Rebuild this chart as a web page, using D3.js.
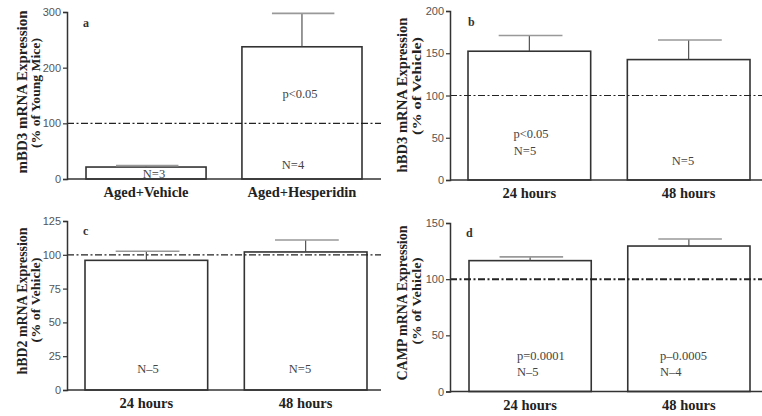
<!DOCTYPE html>
<html lang="en">
<head>
    <meta charset="UTF-8">
    <title>Hesperidin defensin expression</title>
    <script src="https://d3js.org/d3.v7.min.js"></script>
    <style>
        body { margin: 0; background: #fff; }
        svg { display: block; font-family: "Liberation Serif", "DejaVu Serif", serif; }
        .bar { fill: #fff; stroke: #333; stroke-width: 1.6; }
        .stem { stroke: #444; stroke-width: 1.1; }
        .cap { stroke: #999; stroke-width: 1.6; }
        .axis-line { stroke: #333; stroke-width: 1.5; fill: none; }
        .tick-label { font-size: 11px; fill: #555; }
        .cat-label { font-size: 14.5px; font-weight: bold; fill: #222; }
        .note { font-size: 12.5px; fill: #444; }
        .ytitle { font-weight: bold; fill: #222; }
        .letter { font-size: 12px; font-weight: bold; fill: #333; }
    </style>
</head>
<body>
<script>
    const width = 762;
    const height = 416;

    // data
    const panelLetters = ["a", "b", "c", "d"];
    const yTitles = ["mBD3 mRNA Expression", "hBD3 mRNA Expression", "hBD2 mRNA Expression", "CAMP mRNA Expression"];
    const yUnits = ["(% of Young Mice)", "(% of Vehicle)", "(% of Vehicle)", "(% of Vehicle)"];
    const categories = [
        ["Aged+Vehicle", "Aged+Hesperidin"],
        ["24 hours", "48 hours"],
        ["24 hours", "48 hours"],
        ["24 hours", "48 hours"]
    ];
    const means = [[21.5, 237.5], [152.4, 142.5], [95.9, 102.1], [116.5, 129.5]];
    const errorTops = [[24, 297.5], [171, 165.7], [102.6, 111], [119.8, 135.8]];
    const yMax = [300, 200, 125, 150];
    const tickStep = [100, 50, 25, 50];
    const refValue = [100, 100, 100, 100];
    const pNotes = [[null, "p<0.05"], ["p<0.05", null], [null, null], ["p=0.0001", "p\u20130.0005"]];
    const nNotes = [["N=3", "N=4"], ["N=5", "N=5"], ["N\u20135", "N=5"], ["N\u20135", "N\u20134"]];

    // layout of the four panels (pixels)
    const layout = [
        {axisX: 67,  top: 12,  bottom: 179,   bars: [86, 362],  xEnd: 381, refW: 1.2,
         titleX: [27, 40],   titleY: [92, 93],   titleLen: [163, 110], letter: [83, 27],
         pAt: [null, [300, 98]], pAnchor: "middle", nAt: [[154, 178], [293, 169]], nAnchor: "middle"},
        {axisX: 450, top: 11,  bottom: 180,   bars: [468, 750], xEnd: 762, refW: 1.2,
         titleX: [407, 421], titleY: [95, 86],   titleLen: [155, 98],  letter: [468, 26],
         pAt: [[531, 138], null], pAnchor: "middle", nAt: [[525, 155], [683, 165]], nAnchor: "middle"},
        {axisX: 67,  top: 221, bottom: 390,   bars: [85, 367],  xEnd: 381, refW: 1.2,
         titleX: [27, 40],   titleY: [301, 300], titleLen: [147, 85],  letter: [83, 235],
         pAt: [null, null], pAnchor: "middle", nAt: [[148, 373], [300, 373]], nAnchor: "middle"},
        {axisX: 450, top: 223, bottom: 391.5, bars: [469, 750], xEnd: 762, refW: 2,
         titleX: [407, 421], titleY: [303, 301], titleLen: [155, 87],  letter: [466, 237],
         pAt: [[517, 360], [660, 360]], pAnchor: "start", nAt: [[517, 376], [660, 376]], nAnchor: "start"}
    ];

    const svg = d3.select("body").append("svg")
        .attr("width", width).attr("height", height);

    panelLetters.forEach(function(letter, i) {
        const L = layout[i];
        const g = svg.append("g");

        const y = d3.scaleLinear().domain([0, yMax[i]]).range([L.bottom, L.top]);
        const x = d3.scaleBand().domain(categories[i]).range(L.bars)
            .paddingInner(0.23).paddingOuter(0);

        // bars
        g.selectAll("rect.bar")
            .data(categories[i])
            .enter().append("rect")
            .attr("class", "bar")
            .attr("x", d => x(d))
            .attr("width", x.bandwidth())
            .attr("y", (d, j) => y(means[i][j]))
            .attr("height", (d, j) => y(0) - y(means[i][j]));

        // error bars
        g.selectAll("line.stem")
            .data(categories[i])
            .enter().append("line")
            .attr("class", "stem")
            .attr("x1", d => x(d) + x.bandwidth() / 2)
            .attr("x2", d => x(d) + x.bandwidth() / 2)
            .attr("y1", (d, j) => y(means[i][j]))
            .attr("y2", (d, j) => y(errorTops[i][j]));
        g.selectAll("line.cap")
            .data(categories[i])
            .enter().append("line")
            .attr("class", "cap")
            .attr("x1", d => x(d) + x.bandwidth() * 0.25)
            .attr("x2", d => x(d) + x.bandwidth() * 0.77)
            .attr("y1", (d, j) => y(errorTops[i][j]))
            .attr("y2", (d, j) => y(errorTops[i][j]));

        // reference line at 100 %
        g.append("line")
            .attr("x1", L.axisX).attr("x2", L.xEnd)
            .attr("y1", y(refValue[i])).attr("y2", y(refValue[i]))
            .attr("stroke", "#222")
            .attr("stroke-width", L.refW)
            .attr("stroke-dasharray", "7,2.5,2,2.5");

        // y axis
        const yAxis = d3.axisLeft(y)
            .tickValues(d3.range(0, yMax[i] + 1, tickStep[i]))
            .tickSize(4).tickPadding(2);
        const ay = g.append("g")
            .attr("transform", `translate(${L.axisX},0)`)
            .call(yAxis);
        ay.select(".domain").attr("class", "axis-line domain");
        ay.selectAll(".tick line").attr("stroke", "#333").attr("stroke-width", 1.2);
        ay.selectAll(".tick text").attr("class", "tick-label")
            .attr("font-family", null).attr("font-size", null).attr("fill", null);

        // x axis line
        g.append("line")
            .attr("class", "axis-line")
            .attr("x1", L.axisX).attr("x2", L.xEnd)
            .attr("y1", y(0)).attr("y2", y(0));

        // category labels
        g.selectAll("text.cat-label")
            .data(categories[i])
            .enter().append("text")
            .attr("class", "cat-label")
            .attr("text-anchor", "middle")
            .attr("x", d => x(d) + x.bandwidth() / 2)
            .attr("y", y(0) + 18)
            .text(d => d);

        // y titles
        [yTitles[i], yUnits[i]].forEach(function(t, k) {
            g.append("text")
                .attr("class", "ytitle")
                .attr("font-size", k === 0 ? 14 : 12)
                .attr("text-anchor", "middle")
                .attr("transform", `translate(${L.titleX[k]},${L.titleY[k]}) rotate(-90)`)
                .attr("textLength", L.titleLen[k])
                .attr("lengthAdjust", "spacingAndGlyphs")
                .text(t);
        });

        // panel letter
        g.append("text").attr("class", "letter")
            .attr("x", L.letter[0]).attr("y", L.letter[1]).text(letter);

        // notes inside bars
        pNotes[i].forEach(function(t, j) {
            if (!t) return;
            g.append("text").attr("class", "note")
                .attr("text-anchor", L.pAnchor)
                .attr("x", L.pAt[j][0]).attr("y", L.pAt[j][1]).text(t);
        });
        nNotes[i].forEach(function(t, j) {
            g.append("text").attr("class", "note")
                .attr("text-anchor", L.nAnchor)
                .attr("x", L.nAt[j][0]).attr("y", L.nAt[j][1]).text(t);
        });
    });
</script>
</body>
</html>
